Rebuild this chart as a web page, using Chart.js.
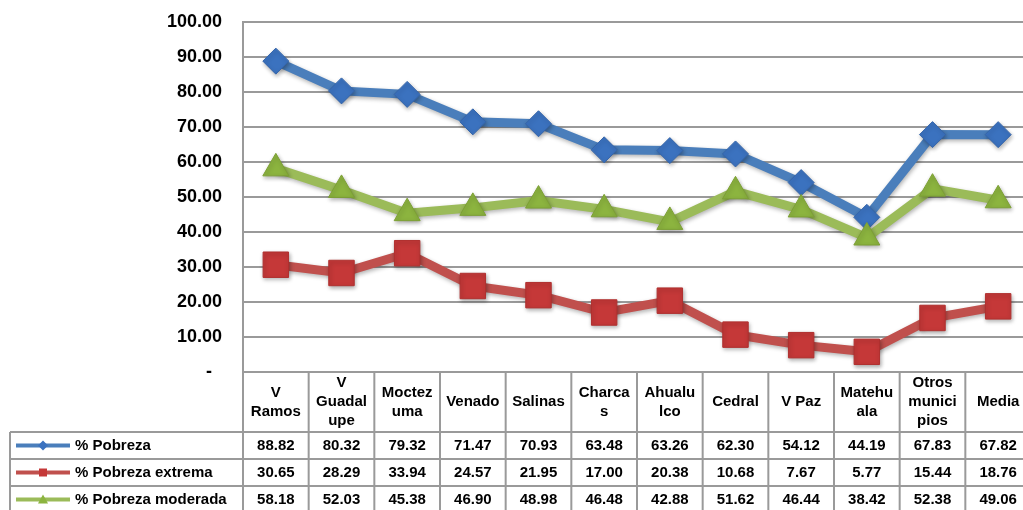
<!DOCTYPE html>
<html>
<head>
<meta charset="utf-8">
<script src="https://cdn.jsdelivr.net/npm/chart.js@4"></script>
<style>
  html, body { margin: 0; padding: 0; background: #fff; overflow: hidden; }
  #wrap { width: 1023px; height: 510px; overflow: hidden; }
</style>
</head>
<body>
<div id="wrap"><canvas id="mychart" width="1031" height="510"></canvas></div>
<script>
// categorias (con los cortes de linea del cuadro)
const categories = [
  ['V', 'Ramos'], ['V', 'Guadal', 'upe'], ['Moctez', 'uma'], ['Venado'], ['Salinas'],
  ['Charca', 's'], ['Ahualu', 'lco'], ['Cedral'], ['V Paz'], ['Matehu', 'ala'],
  ['Otros', 'munici', 'pios'], ['Media']
];
const seriesNames = ['% Pobreza', '% Pobreza extrema', '% Pobreza moderada'];
const pobreza = [88.82, 80.32, 79.32, 71.47, 70.93, 63.48, 63.26, 62.30, 54.12, 44.19, 67.83, 67.82];
const pobrezaExtrema = [30.65, 28.29, 33.94, 24.57, 21.95, 17.00, 20.38, 10.68, 7.67, 5.77, 15.44, 18.76];
const pobrezaModerada = [58.18, 52.03, 45.38, 46.90, 48.98, 46.48, 42.88, 51.62, 46.44, 38.42, 52.38, 49.06];
const yTicks = [0, 10, 20, 30, 40, 50, 60, 70, 80, 90, 100];

const FONT = "'Liberation Sans', Arial, sans-serif";
const gridColor = '#9a9a9a';

// sombra suave de las lineas
const shadowPlugin = {
  id: 'shadow',
  beforeDatasetsDraw(chart) {
    const c = chart.ctx;
    c.save();
    c.shadowColor = 'rgba(0,0,0,0.3)';
    c.shadowBlur = 4;
    c.shadowOffsetX = 1;
    c.shadowOffsetY = 2;
  },
  afterDatasetsDraw(chart) {
    chart.ctx.restore();
  }
};

// cuadro de datos debajo de la grafica
const tablePlugin = {
  id: 'dataTable',
  afterDraw(chart) {
    const c = chart.ctx;
    const area = chart.chartArea;
    const xs = chart.scales.x;
    const colW = (area.right - area.left) / categories.length;
    const top = area.bottom;
    const headBottom = 432;
    const rowH = 27;
    const tableLeft = 10;
    const bottom = headBottom + rowH * 3;

    c.save();
    c.strokeStyle = gridColor;
    c.lineWidth = 2;
    c.beginPath();
    // lineas verticales
    for (let i = 0; i <= categories.length; i++) {
      const x = area.left + i * colW;
      c.moveTo(x, top);
      c.lineTo(x, bottom);
    }
    c.moveTo(tableLeft, headBottom);
    c.lineTo(tableLeft, bottom);
    // lineas horizontales
    c.moveTo(area.left, top);
    c.lineTo(area.right, top);
    for (let r = 0; r <= 3; r++) {
      c.moveTo(tableLeft, headBottom + r * rowH);
      c.lineTo(area.right, headBottom + r * rowH);
    }
    c.stroke();

    c.fillStyle = '#000';
    c.font = 'bold 15px ' + FONT;
    c.textAlign = 'center';
    c.textBaseline = 'middle';
    const headMid = (top + headBottom) / 2;
    categories.forEach((lines, i) => {
      const x = xs.getPixelForValue(i);
      const y0 = headMid - (lines.length - 1) * 19 / 2;
      lines.forEach((t, k) => c.fillText(t, x, y0 + k * 19));
    });

    chart.data.datasets.forEach((ds, r) => {
      const y = headBottom + r * rowH + rowH / 2;
      ds.data.forEach((v, i) => {
        c.fillText(v.toFixed(2), xs.getPixelForValue(i), y);
      });
      // muestra de leyenda
      c.strokeStyle = ds.borderColor;
      c.lineWidth = 4;
      c.beginPath();
      c.moveTo(16, y);
      c.lineTo(70, y);
      c.stroke();
      c.fillStyle = ds.pointBackgroundColor;
      c.beginPath();
      if (ds.pointStyle === 'rectRot') {
        c.moveTo(43, y - 5); c.lineTo(48, y); c.lineTo(43, y + 5); c.lineTo(38, y);
      } else if (ds.pointStyle === 'rect') {
        c.rect(39, y - 4, 8, 8);
      } else {
        c.moveTo(43, y - 5); c.lineTo(48, y + 4); c.lineTo(38, y + 4);
      }
      c.closePath();
      c.fill();
      c.fillStyle = '#000';
      c.textAlign = 'left';
      c.fillText(ds.label, 75, y);
      c.textAlign = 'center';
    });
    c.restore();
  }
};

const ctx = document.getElementById('mychart').getContext('2d');
const myChart = new Chart(ctx, {
  type: 'line',
  data: {
    labels: categories,
    datasets: [{
      label: seriesNames[0],
      data: pobreza,
      borderColor: '#4A7EBB',
      borderWidth: 9,
      pointStyle: 'rectRot',
      pointRadius: 13,
      pointBackgroundColor: '#3B72BF',
      pointBorderColor: '#3565AA',
      pointBorderWidth: 1,
      order: 3
    }, {
      label: seriesNames[1],
      data: pobrezaExtrema,
      borderColor: '#C0504D',
      borderWidth: 9,
      pointStyle: 'rect',
      pointRadius: 18,
      pointBackgroundColor: '#C53838',
      pointBorderColor: '#B0302F',
      pointBorderWidth: 1,
      order: 2
    }, {
      label: seriesNames[2],
      data: pobrezaModerada,
      borderColor: '#9BBB59',
      borderWidth: 9,
      pointStyle: 'triangle',
      pointRadius: 15,
      pointBackgroundColor: '#8CB43F',
      pointBorderColor: '#7DA035',
      pointBorderWidth: 1,
      order: 1
    }]
  },
  options: {
    responsive: false,
    animation: false,
    layout: { autoPadding: false, padding: { top: 22, bottom: 138, left: 0, right: 0 } },
    plugins: {
      legend: { display: false },
      tooltip: { enabled: false }
    },
    scales: {
      x: {
        type: 'category',
        offset: true,
        display: false
      },
      y: {
        min: 0,
        max: 100,
        afterFit(scale) {
          scale.width = 243;
          scale.paddingTop = 9;
          scale.paddingBottom = 9;
        },
        afterBuildTicks(scale) { scale.ticks = yTicks.map(v => ({ value: v })); },
        border: { display: true, color: gridColor, width: 2 },
        grid: { color: gridColor, lineWidth: 2, drawTicks: false },
        ticks: {
          padding: 21,
          color: '#000',
          font: { family: FONT, size: 18, weight: 'bold' },
          callback: function (value) {
            return value === 0 ? '-  ' : value.toFixed(2);
          }
        }
      }
    }
  },
  plugins: [shadowPlugin, tablePlugin]
});
</script>
</body>
</html>
